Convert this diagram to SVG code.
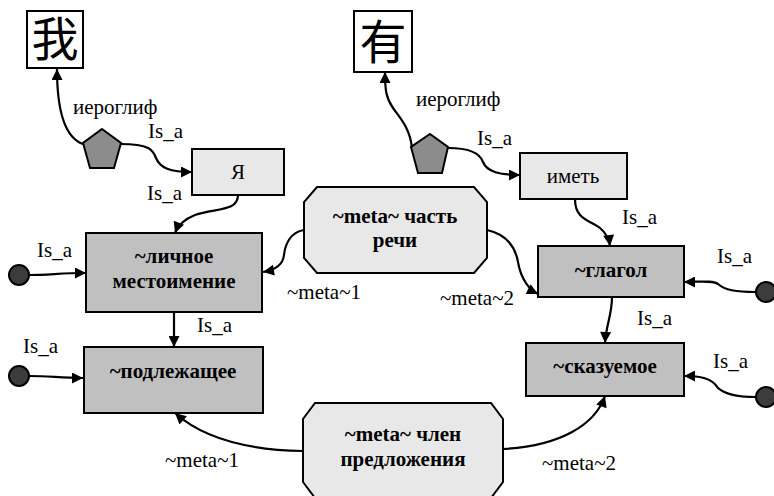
<svg xmlns="http://www.w3.org/2000/svg" width="774" height="496" viewBox="0 0 774 496">
  <style>
    .lbl { font-family: "Liberation Serif", "Times New Roman", serif; font-size: 21px; fill: #000; }
    .bold { font-family: "Liberation Serif", "Times New Roman", serif; font-size: 21px; font-weight: bold; fill: #000; text-anchor: middle; }
    .norm { font-family: "Liberation Serif", "Times New Roman", serif; font-size: 21px; fill: #000; text-anchor: middle; }
    .glyph { font-family: "Noto Sans CJK SC", "Noto Sans CJK JP", sans-serif; font-size: 47px; fill: #000; text-anchor: middle; }
    .frame { fill: #ffffff; stroke: #000; stroke-width: 2; }
    .light { fill: #e8e8e8; stroke: #000; stroke-width: 2; }
    .dark { fill: #c0c0c0; stroke: #000; stroke-width: 2; }
    .penta { fill: #8c8c8c; stroke: #000; stroke-width: 2; }
    .dot { fill: #3c3c3c; stroke: #000; stroke-width: 2; }
    .edge { fill: none; stroke: #000; stroke-width: 2.2; marker-end: url(#arrow); }
  </style>
  <defs>
    <marker id="arrow" viewBox="0 0 10 10" refX="10" refY="5" markerWidth="13" markerHeight="11" markerUnits="userSpaceOnUse" orient="auto">
      <path d="M0,0 L10,5 L0,10 Z" fill="#000"/>
    </marker>
  </defs>

  <!-- connectors -->
  <g id="edges">
    <path class="edge" d="M83,144 C66,138 57,115 57,69"/>
    <path class="edge" d="M120,144 C150,144 153,150 156,158 C160,168 170,172 192,172"/>
    <path class="edge" d="M238,195 C238,212 215,208 195,215 C185,219 178,225 175,233"/>
    <path class="edge" d="M304,230 C290,232 285,245 284,255 C283,265 275,270 263,272"/>
    <path class="edge" d="M487,230 C505,234 515,245 518,262 C521,280 530,290 538,294"/>
    <path class="edge" d="M412,148 C410,128 400,118 393,108 C386,98 385,90 385,72"/>
    <path class="edge" d="M448,148 C470,148 480,153 483,162 C487,172 500,175 520,175"/>
    <path class="edge" d="M575,199 C575,220 590,220 600,228 C606,233 609,238 610,246"/>
    <path class="edge" d="M612,297 C612,315 606,325 605,343"/>
    <path class="edge" d="M303,451 C250,450 205,440 175,413"/>
    <path class="edge" d="M503,449 C560,446 595,425 605,396"/>
    <path class="edge" d="M174,312 L174,347"/>
    <path class="edge" d="M29,275 C50,275 60,273 86,273"/>
    <path class="edge" d="M29,376 C50,376 60,378 83,378"/>
    <path class="edge" d="M756,292 C735,292 725,290 718,284 C712,280 700,282 684,282"/>
    <path class="edge" d="M756,397 C735,397 725,394 718,388 C712,378 700,376 684,376"/>

    <text class="lbl" x="73" y="114">иероглиф</text>
    <text class="lbl" x="148" y="138">Is_a</text>
    <text class="lbl" x="147" y="200">Is_a</text>
    <text class="lbl" x="416" y="106">иероглиф</text>
    <text class="lbl" x="477" y="145">Is_a</text>
    <text class="lbl" x="622" y="224">Is_a</text>
    <text class="lbl" x="717" y="263">Is_a</text>
    <text class="lbl" x="637" y="325">Is_a</text>
    <text class="lbl" x="713" y="368">Is_a</text>
    <text class="lbl" x="287" y="299">~meta~1</text>
    <text class="lbl" x="440" y="305">~meta~2</text>
    <text class="lbl" x="37" y="257">Is_a</text>
    <text class="lbl" x="197" y="332">Is_a</text>
    <text class="lbl" x="23" y="353">Is_a</text>
    <text class="lbl" x="165" y="467">~meta~1</text>
    <text class="lbl" x="542" y="470">~meta~2</text>
  </g>

  <g id="glyph-wo">
    <rect class="frame" x="27" y="11" width="56" height="57"/>
    <text class="glyph" x="55" y="56">我</text>
  </g>
  <g id="glyph-you">
    <rect class="frame" x="354" y="11" width="58" height="61"/>
    <text class="glyph" x="383" y="59">有</text>
  </g>

  <g id="hieroglyph-1">
    <polygon class="penta" points="102,129 121,143 114,168 90,168 83,143"/>
  </g>
  <g id="hieroglyph-2">
    <polygon class="penta" points="430,134 448,147 442,173 418,173 411,147"/>
  </g>

  <g id="ya">
    <rect class="light" x="192" y="149" width="92" height="46"/>
    <text class="norm" x="238" y="179">Я</text>
  </g>
  <g id="imet">
    <rect class="light" x="520" y="153" width="107" height="46"/>
    <text class="norm" x="573" y="183">иметь</text>
  </g>

  <g id="chast-rechi">
    <polygon class="light" points="317,187 474,187 487,202 487,258 474,273 317,273 304,258 304,202"/>
    <text class="bold" x="395" y="223">~meta~ часть</text>
    <text class="bold" x="395" y="247">речи</text>
  </g>
  <g id="chlen-predlozheniya">
    <polygon class="light" points="315,403 491,403 503,419 503,482 491,498 315,498 303,482 303,419"/>
    <text class="bold" x="403" y="441">~meta~ член</text>
    <text class="bold" x="403" y="466">предложения</text>
  </g>

  <g id="lichnoe-mestoimenie">
    <rect class="dark" x="86" y="233" width="176" height="79"/>
    <text class="bold" x="174" y="263">~личное</text>
    <text class="bold" x="174" y="288">местоимение</text>
  </g>
  <g id="podlezhashchee">
    <rect class="dark" x="84" y="347" width="179" height="66"/>
    <text class="bold" x="173" y="378">~подлежащее</text>
  </g>
  <g id="glagol">
    <rect class="dark" x="538" y="246" width="146" height="51"/>
    <text class="bold" x="611" y="277">~глагол</text>
  </g>
  <g id="skazuemoe">
    <rect class="dark" x="526" y="343" width="158" height="53"/>
    <text class="bold" x="605" y="373">~сказуемое</text>
  </g>

  <g id="source-left-1"><circle class="dot" cx="19" cy="275" r="10"/></g>
  <g id="source-left-2"><circle class="dot" cx="19" cy="376" r="10"/></g>
  <g id="source-right-1"><circle class="dot" cx="766" cy="292" r="10"/></g>
  <g id="source-right-2"><circle class="dot" cx="766" cy="397" r="10"/></g>
</svg>
